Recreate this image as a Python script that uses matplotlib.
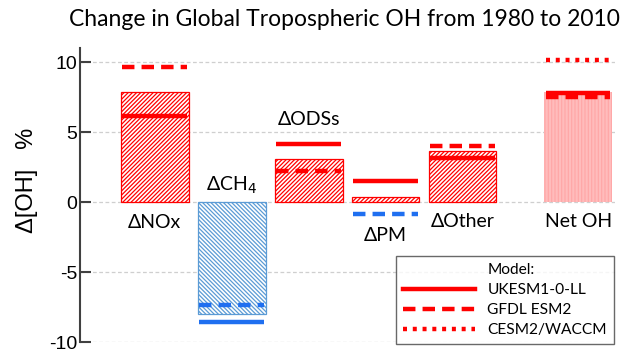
import matplotlib
matplotlib.use("Agg")
import matplotlib.pyplot as plt
from matplotlib.lines import Line2D
import numpy as np

plt.rcParams['axes.unicode_minus'] = False
plt.rcParams['hatch.linewidth'] = 0.9

# Data: change in global tropospheric OH (%), 1980-2010
categories = ["\u0394NOx", "\u0394CH$_4$", "\u0394ODSs", "\u0394PM", "\u0394Other", "Net OH"]
positions = [1, 2, 3, 4, 5, 6.5]
bar_values = [7.9, -8.0, 3.1, 0.4, 3.65, 7.85]
ukesm = [6.15, -8.55, 4.15, 1.55, 3.2, 7.8]
gfdl = [9.7, -7.3, 2.25, -0.8, 4.0, 7.55]
cesm_net = 10.15
yticks = [-10, -5, 0, 5, 10]

# label placement (data y) for each category
label_y = [-1.45, 1.2, 5.9, -2.4, -1.35, -1.35]

RED = "#ff0000"
BLUE = "#1f6ff0"
BAR_BLUE = "#5b9bd5"
width = 0.88

fig = plt.figure(figsize=(6.2, 3.5), dpi=100)
ax = fig.add_axes([0.129, 0.022, 0.863, 0.84])
ax.set_xlim(0.03, 6.98)
ax.set_ylim(-10, 11)

for spine in ["top", "right", "bottom"]:
    ax.spines[spine].set_visible(False)
ax.spines["left"].set_color("#404040")
ax.spines["left"].set_linewidth(1.5)
ax.set_xticks([])
ax.set_yticks(yticks)
ax.set_yticklabels([str(t) for t in yticks], family="Liberation Sans", fontsize=14)
ax.tick_params(axis="y", direction="in", length=8, width=1.5, color="#404040", pad=2)
for t in yticks:
    ax.axhline(t, color="#cfcfcf", lw=0.9, ls=(0, (3, 2)), zorder=0)

# driver bars
for i in range(5):
    v = bar_values[i]
    col = RED if v > 0 else BAR_BLUE
    hatch = "////////" if v > 0 else "\\\\\\\\\\\\\\\\"
    ax.bar(positions[i], v, width=width, bottom=0, facecolor="white",
           edgecolor=col, hatch=hatch, lw=0.9, zorder=2)

# net bar
ax.bar(positions[5], bar_values[5], width=width, facecolor="#ffbcbc",
       edgecolor="#ffa8a8", hatch="|||||", lw=0.0, zorder=2)

# model lines
for i in range(6):
    p = positions[i]
    x0, x1 = p - width / 2 + 0.02, p + width / 2 - 0.02
    cu = RED if ukesm[i] > 0 else BLUE
    cg = RED if gfdl[i] > 0 else BLUE
    ax.plot([x0, x1], [gfdl[i], gfdl[i]], color=cg, lw=3.2,
            ls=(0, (2.8, 1.6)), solid_capstyle="butt", dash_capstyle="butt", zorder=3)
    ax.plot([x0, x1], [ukesm[i], ukesm[i]], color=cu, lw=3.2,
            solid_capstyle="butt", zorder=4)
ax.plot([positions[5] - width / 2 + 0.02, positions[5] + width / 2 - 0.02],
        [cesm_net, cesm_net], color=RED, lw=3.2, ls=(0, (0.9, 1.3)),
        dash_capstyle="butt", zorder=3)

# category labels
for i, name in enumerate(categories):
    ax.text(positions[i], label_y[i], name, ha="center", va="center",
            fontsize=14, family=["Lato", "DejaVu Sans"], zorder=5,
            bbox=dict(facecolor="white", edgecolor="none", pad=1))

fig.text(0.555, 0.945, "Change in Global Tropospheric OH from 1980 to 2010",
         ha="center", va="center", fontsize=16.5, family=["Lato", "DejaVu Sans"])
fig.text(0.043, 0.485, "\u0394[OH]   %", rotation=90, ha="center", va="center",
         fontsize=17, family="Liberation Sans")

handles = [Line2D([], [], color="none"),
           Line2D([], [], color=RED, lw=3.2),
           Line2D([], [], color=RED, lw=3.2, ls=(0, (2.8, 1.6))),
           Line2D([], [], color=RED, lw=3.2, ls=(0, (0.9, 1.3)))]
labels = ["Model:", "UKESM1-0-LL", "GFDL ESM2", "CESM2/WACCM"]
leg = fig.legend(handles, labels, loc="lower right", bbox_to_anchor=(0.99, 0.017),
                 prop=dict(family=["Lato", "DejaVu Sans"], size=11.2),
                 frameon=True, fancybox=False, edgecolor="#444444",
                 handlelength=4.6, handletextpad=0.8, labelspacing=0.38,
                 borderpad=0.45, borderaxespad=0.0)
leg.get_frame().set_linewidth(1.0)

fig.savefig("out.png", dpi=100)
